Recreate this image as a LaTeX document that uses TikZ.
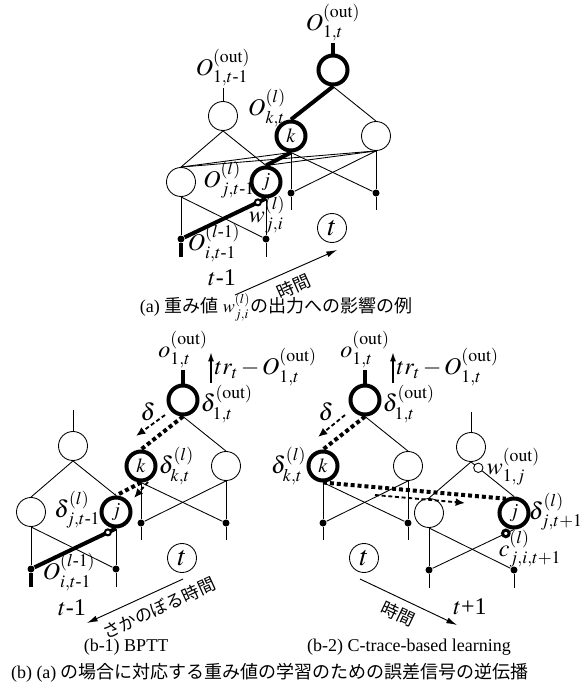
\documentclass[tikz,border=0pt]{standalone}
\usepackage{amsmath}
\usepackage{mathptmx}
\usepackage{fontspec}
\setmainfont{Liberation Serif}
\newfontfamily\jp{Noto Sans CJK JP}
\usetikzlibrary{arrows.meta}
\newcommand{\hyph}{\text{-}}

\begin{document}
\begin{tikzpicture}[x=0.75pt,y=-0.75pt,line width=0.65pt,
    font=\fontsize{18}{20}\selectfont,
    unit/.style={circle,draw,minimum size=21.75pt,inner sep=0pt,font=\fontsize{15}{17}\selectfont},
    hot/.style={unit,line width=3pt},
    inp/.style={circle,fill,minimum size=5.25pt,inner sep=0pt},
    wt/.style={circle,draw,fill=white,minimum size=4.5pt,inner sep=0pt,line width=1.5pt},
    wo/.style={circle,draw,fill=white,minimum size=7pt,inner sep=0pt,line width=0.65pt},
    wc/.style={circle,draw,fill=white,minimum size=5pt,inner sep=0pt,line width=2.2pt},
    route/.style={line width=3pt},
    rise/.style={line width=3pt,dash pattern=on 3pt off 2.2pt},
    flow/.style={line width=1.4pt,dash pattern=on 3pt off 2pt,-{Latex[length=7pt,width=6pt]}},
    clock/.style={line width=0.7pt,-{Latex[length=8pt,width=4.5pt]}},
    lift/.style={line width=1.2pt,-{Latex[length=7pt,width=4.5pt]}},
    jlab/.style={font=\jp\fontsize{13}{15}\selectfont,inner sep=1pt},
    title/.style={font=\fontsize{13.5}{16}\selectfont,inner sep=0pt},
    lbl/.style={inner sep=1pt},
    tnode/.style={unit,font=\fontsize{21}{23}\selectfont}]
  \useasboundingbox (0,0) rectangle (580,690);

  %% (a) time t-1 -> t
  \node[hot] (aOt) at (333,70) {};
  \node[unit] (aOp) at (223,116) {};
  \node[hot] (aK) at (291,136) {$k$};
  \node[unit] (aR) at (376,136) {};
  \node[unit] (aL) at (181,182) {};
  \node[hot] (aJ) at (266,182) {$j$};
  \node[inp] (aX1) at (291,193) {};
  \node[inp] (aX2) at (376,193) {};
  \node[inp] (aY1) at (181,239) {};
  \node[inp] (aY2) at (266,239) {};
  \coordinate (aOtTop) at (333,43);
  \coordinate (aOpTop) at (223,88);
  \coordinate (aX1b) at (291,210);
  \coordinate (aX2b) at (376,210);
  \coordinate (aY1b) at (181,257);
  \coordinate (aY2b) at (266,257);

  \draw[route] (aOt) -- (aOtTop);
  \draw (aOp) -- (aOpTop);
  \draw[route] (aOt.south) -- (aK.north);
  \draw (aOt.south) -- (aR.north);
  \draw (aOp.south) -- (aL.north);
  \draw (aOp.south) -- (aJ.north);
  % recurrent weights
  \draw (aL.north) -- (aK.south);
  \draw (aL.north) -- (aR.south);
  \draw (aJ.north) -- (aR.south);
  \draw[route] (aK.south) -- (aJ.north);
  % inputs
  \draw (aK.south) -- (aX1);
  \draw (aK.south) -- (aX2);
  \draw (aR.south) -- (aX2);
  \draw (aR.south) -- (aX1);
  \draw (aL.south) -- (aY1);
  \draw (aL.south) -- (aY2);
  \draw (aJ.south) -- (aY2);
  \draw[route] (aJ.south) -- (aY1) node[wt,pos=0.1] (aW) {};
  \draw (aX1) -- (aX1b);
  \draw (aX2) -- (aX2b);
  \draw[route] (aY1) -- (aY1b);
  \draw (aY2) -- (aY2b);

  \node[lbl,anchor=south] (aOtLab) at (aOtTop) {$O^{(\mathrm{out})}_{1,t}$};
  \node[lbl,anchor=south] (aOpLab) at (aOpTop) {$O^{(\mathrm{out})}_{1,t\hyph1}$};
  \node[lbl] (aKLab) at (267,108) {$O^{(l)}_{k,t}$};
  \node[lbl] (aJLab) at (229,180) {$O^{(l)}_{j,t\hyph1}$};
  \node[lbl] (aWLab) at (267,215) {$w^{(l)}_{j,i}$};
  \node[lbl] (aYLab) at (214,243) {$O^{(l\hyph1)}_{i,t\hyph1}$};
  \node[tnode] (aT) at (332,228) {$t$};
  \node[lbl] (aTm) at (222,278) {$t$-1};
  \coordinate (aA1) at (235,295);
  \coordinate (aA2) at (337,250);
  \draw[clock] (aA1) -- (aA2);
  \node[jlab,rotate=24] (aTime) at (294,286) {時間};
  \node[title] (aCap) at (276,307) {(a) {\jp 重み値} $w^{(l)}_{j,i}${\jp の出力への影響の例}};

  %% (b-1) BPTT
  \node[hot] (bOt) at (183,400) {};
  \node[unit] (bOp) at (73,446) {};
  \node[hot] (bK) at (141,466) {$k$};
  \node[unit] (bR) at (226,466) {};
  \node[unit] (bL) at (31,512) {};
  \node[hot] (bJ) at (116,512) {$j$};
  \node[inp] (bX1) at (141,523) {};
  \node[inp] (bX2) at (226,523) {};
  \node[inp] (bY1) at (31,569) {};
  \node[inp] (bY2) at (116,569) {};
  \coordinate (bOtTop) at (183,370);
  \coordinate (bOpTop) at (73,410);
  \coordinate (bX1b) at (141,540);
  \coordinate (bX2b) at (226,540);
  \coordinate (bY1b) at (31,587);
  \coordinate (bY2b) at (116,587);

  \draw[route] (bOt) -- (bOtTop);
  \draw (bOp) -- (bOpTop);
  \draw[rise] (bOt.south) -- (bK.north);
  \draw (bOt.south) -- (bR.north);
  \draw (bOp.south) -- (bL.north);
  \draw (bOp.south) -- (bJ.north);
  \draw[rise] (bK.south) -- (bJ.north);
  \draw (bK.south) -- (bX1);
  \draw (bK.south) -- (bX2);
  \draw (bR.south) -- (bX2);
  \draw (bR.south) -- (bX1);
  \draw (bL.south) -- (bY1);
  \draw (bL.south) -- (bY2);
  \draw (bJ.south) -- (bY2);
  \draw[route] (bJ.south) -- (bY1) node[wt,pos=0.1] (bW) {};
  \draw (bX1) -- (bX1b);
  \draw (bX2) -- (bX2b);
  \draw[route] (bY1) -- (bY1b);
  \draw (bY2) -- (bY2b);

  \coordinate (bU1) at (211,383);
  \coordinate (bU2) at (211,352);
  \draw[lift] (bU1) -- (bU2);
  \coordinate (bD1) at (165,415);
  \coordinate (bD2) at (136,436);
  \draw[flow] (bD1) -- (bD2);
  \coordinate (bE1) at (148,482);
  \coordinate (bE2) at (134,498);
  \draw[flow] (bE1) -- (bE2);

  \node[lbl,anchor=south] (bOtLab) at (bOtTop) {$o^{(\mathrm{out})}_{1,t}$};
  \node[lbl,anchor=west] (bTr) at (213,367) {$tr_t\,{-}\,O^{(\mathrm{out})}_{1,t}$};
  \node[lbl,anchor=west] (bDout) at (199,404) {$\delta^{(\mathrm{out})}_{1,t}$};
  \node[lbl] (bDel) at (148,412) {$\delta$};
  \node[lbl,anchor=west] (bDk) at (157,466) {$\delta^{(l)}_{k,t}$};
  \node[lbl,anchor=east] (bDj) at (102,510) {$\delta^{(l)}_{j,t\hyph1}$};
  \node[lbl] (bYLab) at (69,572) {$O^{(l\hyph1)}_{i,t\hyph1}$};
  \node[tnode] (bT) at (182,558) {$t$};
  \node[lbl] (bTm) at (72,608) {$t$-1};
  \coordinate (bA1) at (183,579);
  \coordinate (bA2) at (87,623);
  \draw[clock] (bA1) -- (bA2);
  \node[jlab,rotate=24.6] (bTime) at (159,608) {さかのぼる時間};
  \node[title] (bCap) at (126,647) {(b-1) BPTT};

  %% (b-2) C-trace
  \node[hot] (cOt) at (365,400) {};
  \node[hot] (cK) at (323,466) {$k$};
  \node[unit] (cR) at (408,466) {};
  \node[inp] (cX1) at (323,523) {};
  \node[inp] (cX2) at (408,523) {};
  \node[unit] (cOn) at (471,447) {};
  \node[unit] (cL) at (429,513) {};
  \node[hot] (cJ) at (514,513) {$j$};
  \node[inp] (cY1) at (429,570) {};
  \node[inp] (cY2) at (514,570) {};
  \coordinate (cOtTop) at (365,370);
  \coordinate (cOnTop) at (471,412);
  \coordinate (cX1b) at (323,540);
  \coordinate (cX2b) at (408,540);
  \coordinate (cY1b) at (429,588);
  \coordinate (cY2b) at (514,588);

  \draw[route] (cOt) -- (cOtTop);
  \draw (cOn) -- (cOnTop);
  \draw[rise] (cOt.south) -- (cK.north);
  \draw (cOt.south) -- (cR.north);
  \draw (cK.south) -- (cX1);
  \draw (cK.south) -- (cX2);
  \draw (cR.south) -- (cX2);
  \draw (cR.south) -- (cX1);
  \draw (cOn.south) -- (cL.north);
  \draw (cOn.south) -- (cJ.north) node[wo,pos=0.17] (cWo) {};
  \draw[rise] (cK.south) -- (cJ.120);
  \draw (cL.south) -- (cY1);
  \draw (cL.south) -- (cY2);
  \draw (cJ.south) -- (cY1) node[wc,pos=0.1] (cC) {};
  \draw (cX1) -- (cX1b);
  \draw (cX2) -- (cX2b);
  \draw (cY1) -- (cY1b);
  \draw (cY2) -- (cY2b);

  \coordinate (cU1) at (393,383);
  \coordinate (cU2) at (393,352);
  \draw[lift] (cU1) -- (cU2);
  \coordinate (cD1) at (345,415);
  \coordinate (cD2) at (318,437);
  \draw[flow] (cD1) -- (cD2);
  \coordinate (cE1) at (375,495);
  \coordinate (cE2) at (465,503);
  \draw[flow] (cE1) -- (cE2);

  \node[lbl,anchor=south] (cOtLab) at (cOtTop) {$o^{(\mathrm{out})}_{1,t}$};
  \node[lbl,anchor=west] (cTr) at (395,367) {$tr_t\,{-}\,O^{(\mathrm{out})}_{1,t}$};
  \node[lbl,anchor=west] (cDout) at (381,404) {$\delta^{(\mathrm{out})}_{1,t}$};
  \node[lbl] (cDel) at (326,412) {$\delta$};
  \node[lbl,anchor=east] (cDk) at (308,466) {$\delta^{(l)}_{k,t}$};
  \node[lbl,anchor=west] (cWLab) at (485,467) {$w^{(\mathrm{out})}_{1,j}$};
  \node[lbl,anchor=west] (cDj) at (527,512) {$\delta^{(l)}_{j,t+1}$};
  \node[lbl,anchor=west] (cCLab) at (497,549) {$c^{(l)}_{j,i,t+1}$};
  \node[tnode] (cT) at (364,558) {$t$};
  \node[lbl] (cTp) at (470,607) {$t$+1};
  \coordinate (cA1) at (360,579);
  \coordinate (cA2) at (457,625);
  \draw[clock] (cA1) -- (cA2);
  \node[jlab,rotate=-25.4] (cTime) at (398,614) {時間};
  \node[title] (cCap) at (409,647) {(b-2) C-trace-based learning};

  \node[title] (bcCap) at (270,673) {(b) (a) {\jp の場合に対応する重み値の学習のための誤差信号の逆伝播}};
\end{tikzpicture}
\end{document}
